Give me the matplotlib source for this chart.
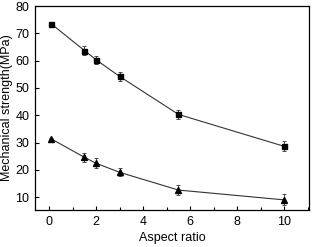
import matplotlib
matplotlib.use("Agg")
import matplotlib.pyplot as plt
from matplotlib.ticker import MultipleLocator

plt.rcParams['font.family'] = ['Liberation Sans', 'DejaVu Sans']

aspect = [0.1, 1.5, 2, 3, 5.5, 10]
strength_sq = [73.4, 63.7, 60.3, 54.2, 40.3, 28.6]
err_sq = [0.8, 1.5, 1.4, 1.6, 1.5, 1.8]
strength_tri = [31.3, 24.6, 22.4, 19.1, 12.6, 9.0]
err_tri = [0.5, 1.6, 1.9, 1.4, 1.9, 2.0]

fig = plt.figure(figsize=(3.12, 2.47), dpi=100)
ax = fig.add_axes([35/312, 1 - 210/247, 274/312, 204/247])

# two series, same style, different markers
for y, e, m, ms in [(strength_sq, err_sq, 's', 3.6), (strength_tri, err_tri, '^', 4.2)]:
    ax.errorbar(aspect, y, yerr=e, fmt='-' + m, color='#333333', mfc='black', mec='black',
                ms=ms, lw=0.8, ecolor='#333333', elinewidth=0.6, capsize=1.5, capthick=0.6)

ax.set_xlim(-0.6, 11.05)
ax.set_ylim(5.3, 80)
ax.xaxis.set_major_locator(MultipleLocator(2))
ax.xaxis.set_minor_locator(MultipleLocator(1))
ax.yaxis.set_major_locator(MultipleLocator(10))
ax.tick_params(direction='in', labelsize=9, length=3, width=0.8, top=False, right=False, pad=4)
ax.tick_params(which='minor', direction='in', length=2, width=0.8)
for s in ax.spines.values():
    s.set_linewidth(0.9)

ax.set_xlabel('Aspect ratio', fontsize=9, labelpad=3)
ax.set_ylabel('Mechanical strength(MPa)', fontsize=9, labelpad=2)

fig.savefig('out.png', dpi=100)
